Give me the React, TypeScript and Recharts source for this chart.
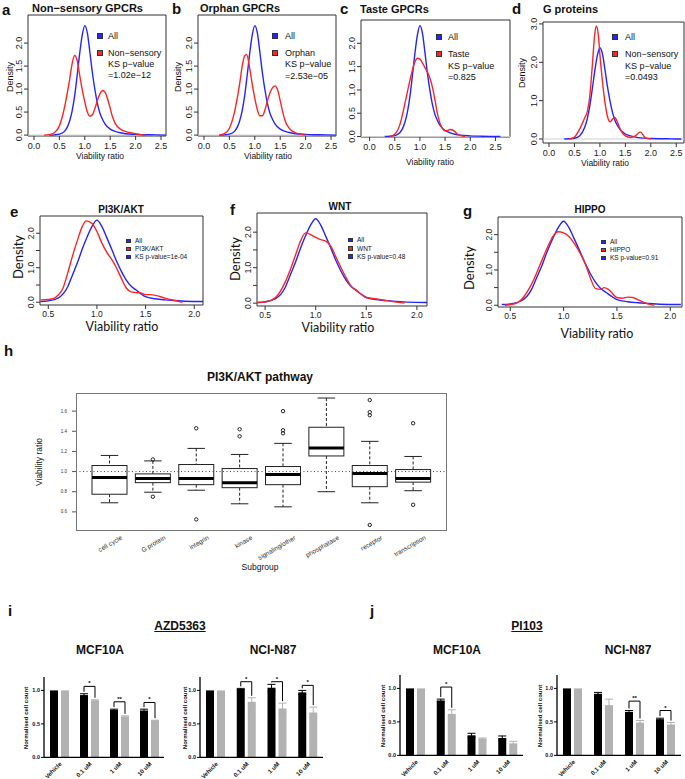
import React from 'react'
import { LineChart, Line, XAxis, YAxis, ReferenceArea, ReferenceLine, BarChart, Bar, ErrorBar } from 'recharts'

const SANS = '"Liberation Sans", Arial, Helvetica, sans-serif'
const SOFT = 'Lato, "Open Sans", sans-serif'
const BLUE = '#2424ff'
const RED = '#ff2424'
const GREY = '#b2b2b2'

// density curves as [viability ratio, density]
const allNarrow = [
  [0.3, 0], [0.4, 0.005], [0.5, 0.02], [0.6, 0.08], [0.7, 0.3], [0.75, 0.52], [0.8, 0.85], [0.85, 1.3],
  [0.9, 1.78], [0.95, 2.18], [1.0, 2.38], [1.05, 2.22], [1.1, 1.8], [1.15, 1.35], [1.2, 0.98], [1.25, 0.68],
  [1.3, 0.47], [1.35, 0.34], [1.4, 0.24], [1.5, 0.13], [1.6, 0.08], [1.7, 0.05], [1.8, 0.03], [2.0, 0.015],
  [2.2, 0.008], [2.4, 0.004], [2.6, 0],
]
const nonSensory = [
  [0.2, 0], [0.3, 0.01], [0.4, 0.05], [0.5, 0.2], [0.6, 0.6], [0.7, 1.2], [0.75, 1.55], [0.8, 1.73],
  [0.85, 1.62], [0.9, 1.3], [0.95, 0.98], [1.0, 0.72], [1.05, 0.5], [1.1, 0.41], [1.15, 0.44], [1.2, 0.58],
  [1.25, 0.76], [1.3, 0.9], [1.35, 0.97], [1.4, 0.93], [1.45, 0.78], [1.5, 0.58], [1.55, 0.38], [1.6, 0.25],
  [1.7, 0.13], [1.8, 0.08], [1.9, 0.05], [2.0, 0.03], [2.1, 0.01], [2.2, 0],
]
const orphan = [
  [0.3, 0], [0.4, 0.03], [0.5, 0.15], [0.6, 0.5], [0.7, 1.1], [0.75, 1.48], [0.8, 1.72], [0.84, 1.75],
  [0.9, 1.45], [0.95, 1.1], [1.0, 0.8], [1.05, 0.55], [1.1, 0.42], [1.15, 0.42], [1.2, 0.55], [1.25, 0.75],
  [1.3, 0.92], [1.35, 1.03], [1.4, 1.07], [1.45, 0.98], [1.5, 0.75], [1.55, 0.5], [1.6, 0.3], [1.7, 0.12],
  [1.8, 0.05], [1.9, 0.02], [2.0, 0],
]
const taste = [
  [0.4, 0], [0.5, 0.05], [0.6, 0.25], [0.7, 0.7], [0.8, 1.2], [0.9, 1.6], [0.95, 1.68], [1.0, 1.66],
  [1.05, 1.58], [1.1, 1.48], [1.15, 1.38], [1.2, 1.25], [1.25, 1.05], [1.3, 0.78], [1.35, 0.48], [1.4, 0.28],
  [1.45, 0.17], [1.5, 0.12], [1.55, 0.13], [1.6, 0.15], [1.65, 0.14], [1.7, 0.1], [1.75, 0.05], [1.85, 0.01],
  [1.9, 0],
]
const gProteins = [
  [0.4, 0], [0.5, 0.05], [0.6, 0.25], [0.7, 0.55], [0.75, 0.7], [0.8, 1.1], [0.85, 1.9], [0.9, 2.75],
  [0.93, 2.95], [0.97, 2.7], [1.0, 2.2], [1.05, 1.5], [1.1, 0.95], [1.15, 0.58], [1.2, 0.45], [1.25, 0.52],
  [1.29, 0.56], [1.35, 0.42], [1.4, 0.25], [1.5, 0.08], [1.6, 0.04], [1.7, 0.08], [1.75, 0.15], [1.8, 0.18],
  [1.85, 0.1], [1.9, 0.03], [2.0, 0],
]
const allWide = [
  [0.42, 0.02], [0.5, 0.04], [0.6, 0.12], [0.7, 0.45], [0.75, 0.8], [0.8, 1.15], [0.85, 1.55], [0.9, 1.9],
  [0.95, 2.2], [1.0, 2.38], [1.05, 2.2], [1.1, 1.88], [1.15, 1.55], [1.2, 1.2], [1.25, 0.9], [1.3, 0.65],
  [1.35, 0.47], [1.4, 0.36], [1.45, 0.25], [1.5, 0.16], [1.6, 0.1], [1.7, 0.07], [1.8, 0.05], [1.9, 0.03],
  [2.1, 0.02],
]
const pi3kAkt = [
  [0.42, 0.07], [0.5, 0.08], [0.55, 0.1], [0.6, 0.2], [0.65, 0.4], [0.7, 0.85], [0.75, 1.35], [0.8, 1.8],
  [0.85, 2.2], [0.89, 2.36], [0.95, 2.28], [1.0, 2.05], [1.05, 1.72], [1.1, 1.45], [1.15, 1.25], [1.2, 1.0],
  [1.25, 0.7], [1.3, 0.42], [1.35, 0.3], [1.4, 0.28], [1.45, 0.27], [1.5, 0.22], [1.55, 0.22], [1.6, 0.2],
  [1.7, 0.12], [1.8, 0.05], [1.88, 0],
]
const wnt = [
  [0.42, 0.02], [0.5, 0.03], [0.6, 0.15], [0.7, 0.6], [0.75, 0.95], [0.8, 1.35], [0.85, 1.75], [0.9, 1.98],
  [0.95, 1.93], [1.0, 1.85], [1.05, 1.79], [1.1, 1.75], [1.15, 1.6], [1.2, 1.3], [1.25, 1.0], [1.3, 0.72],
  [1.35, 0.48], [1.4, 0.37], [1.45, 0.25], [1.5, 0.16], [1.6, 0.12], [1.7, 0.07], [1.8, 0.03], [1.88, 0],
]
const hippo = [
  [0.45, 0], [0.55, 0.05], [0.6, 0.15], [0.7, 0.6], [0.8, 1.3], [0.85, 1.65], [0.9, 1.95], [0.95, 2.08],
  [1.0, 2.05], [1.05, 1.95], [1.1, 1.75], [1.15, 1.5], [1.2, 1.2], [1.25, 0.78], [1.3, 0.47], [1.35, 0.45],
  [1.38, 0.5], [1.42, 0.45], [1.5, 0.22], [1.55, 0.2], [1.6, 0.23], [1.65, 0.22], [1.7, 0.15], [1.8, 0.03],
  [1.85, 0],
]

const gpcrTicksX = [0, 0.5, 1, 1.5, 2, 2.5]
const gpcrTicksY = [0, 0.5, 1, 1.5, 2]
const gProtTicksY = [0, 1, 2, 3]
const pathTicksX = [0.5, 1, 1.5, 2]
const pathTicksY = [0, 0.5, 1, 1.5, 2]
const pathLabelsY = [0, 1, 2]

// h: PI3K/AKT pathway boxplot
const subgroups = ['cell cycle', 'G protein', 'integrin', 'kinase', 'signaling/other', 'phosphatase', 'receptor', 'transcription']
const whiskerLow = [0.69, 0.795, 0.815, 0.68, 0.65, 0.8, 0.69, 0.81]
const quart1 = [0.775, 0.89, 0.87, 0.84, 0.87, 1.155, 0.85, 0.895]
const medians = [0.94, 0.93, 0.93, 0.89, 0.97, 1.235, 0.98, 0.93]
const quart3 = [1.06, 0.977, 1.07, 1.03, 1.05, 1.44, 1.06, 1.02]
const whiskerHigh = [1.16, 1.106, 1.23, 1.17, 1.28, 1.73, 1.3, 1.15]
const outliers = [[], [0.75, 1.12], [1.43, 0.525], [1.42, 1.35], [1.6, 1.41, 1.38], [], [1.71, 1.59, 1.56, 0.47], [1.48, 0.67]]
const boxTicksY = [0.6, 0.8, 1.0, 1.2, 1.4, 1.6]

// i / j: normalised cell counts
const doses = ['Vehicle', '0.1 uM', '1 uM', '10 uM']
const azdMcfBlack = [1.0, 0.93, 0.71, 0.7]
const azdMcfGrey = [1.0, 0.85, 0.61, 0.55]
const azdMcfBlackErr = [0, 0.02, 0.01, 0.02]
const azdMcfGreyErr = [0, 0.01, 0.01, 0.005]
const azdMcfBracket = [null, 1.06, 0.83, 0.82]
const azdMcfStars = ['', '*', '**', '*']
const azdNciBlack = [1.0, 1.02, 1.04, 0.97]
const azdNciGrey = [1.0, 0.83, 0.73, 0.67]
const azdNciBlackErr = [0, 0.01, 0.05, 0.03]
const azdNciGreyErr = [0, 0.06, 0.08, 0.08]
const azdNciBracket = [null, 1.13, 1.13, 1.075]
const azdNciStars = ['', '*', '*', '*']
const piMcfBlack = [1.0, 0.82, 0.3, 0.26]
const piMcfGrey = [1.0, 0.62, 0.25, 0.18]
const piMcfBlackErr = [0, 0.02, 0.03, 0.03]
const piMcfGreyErr = [0, 0.06, 0.01, 0.03]
const piMcfBracket = [null, 1.02, null, null]
const piMcfStars = ['', '*', '', '']
const piNciBlack = [1.0, 0.92, 0.65, 0.54]
const piNciGrey = [1.0, 0.75, 0.49, 0.46]
const piNciBlackErr = [0, 0.02, 0.02, 0.015]
const piNciGreyErr = [0, 0.09, 0.03, 0.03]
const piNciBracket = [null, null, 0.81, 0.67]
const piNciStars = ['', '', '**', '*']
const cellTicksY = [0, 0.5, 1.0]

const toPts = (c: number[][]) => c.map(([x, y]) => ({ x, y }))

function Txt({ x, y, size, children, bold, rotate = 0, anchor = 'middle', font = SANS, underline }: any) {
  return (
    <div style={{
      position: 'absolute', left: x, top: y,
      transform: `translate(${anchor === 'start' ? '0' : '-50%'}, -50%) rotate(${rotate}deg)`,
      transformOrigin: anchor === 'start' ? 'left center' : 'center',
      fontFamily: font, fontSize: size, fontWeight: bold ? 700 : 400,
      whiteSpace: 'nowrap', lineHeight: 1, color: '#111',
      textDecoration: underline ? 'underline' : 'none',
    }}>{children}</div>
  )
}

function Key({ sx, tx, y, color, text, size, sq }: any) {
  return (
    <>
      {color && <div style={{ position: 'absolute', left: sx, top: y - sq / 2, width: sq, height: sq, background: color, border: '0.5px solid #333', boxSizing: 'border-box' }} />}
      <Txt x={tx} y={y} size={size} anchor="start">{text}</Txt>
    </>
  )
}

const xTick = (size: number) => (p: any) => (
  <text x={p.x} y={p.y} dy="0.75em" textAnchor="middle" fontSize={size} fontFamily={SANS} fill="#222">
    {Number(p.payload.value).toFixed(1)}
  </text>
)
const yTickRot = (size: number, shown?: number[]) => (p: any) => {
  if (shown && !shown.includes(p.payload.value)) return <g />
  return (
    <text x={p.x} y={p.y} transform={`rotate(-90 ${p.x} ${p.y})`} textAnchor="middle" fontSize={size} fontFamily={SANS} fill="#222">
      {Number(p.payload.value).toFixed(1)}
    </text>
  )
}

function DensityPanel({ box, xDomain, yDomain, xTicks, yTicks, yLabels, blue, red, tickFont, zeroLine }: any) {
  const padL = 30, padT = 4, padR = 4, axH = 22
  return (
    <div style={{ position: 'absolute', left: box.x - padL, top: box.y - padT }}>
      <LineChart width={box.w + padL + padR} height={box.h + padT + axH} margin={{ top: padT, right: padR, left: 0, bottom: 0 }}>
        <XAxis type="number" dataKey="x" domain={xDomain} ticks={xTicks} allowDataOverflow interval={0}
          axisLine={false} tickLine={{ stroke: '#333' }} tickSize={4} height={axH} tick={xTick(tickFont)} />
        <YAxis type="number" dataKey="y" domain={yDomain} ticks={yTicks} allowDataOverflow interval={0}
          axisLine={false} tickLine={{ stroke: '#333' }} tickSize={4} width={padL} tick={yTickRot(tickFont, yLabels)} />
        {zeroLine && <ReferenceLine y={0} stroke="#cfcfcf" />}
        <Line data={toPts(blue)} dataKey="y" type="monotone" stroke={BLUE} strokeWidth={1.4} dot={false} isAnimationActive={false} />
        <Line data={toPts(red)} dataKey="y" type="monotone" stroke={RED} strokeWidth={1.4} dot={false} isAnimationActive={false} />
        <ReferenceArea x1={xDomain[0]} x2={xDomain[1]} y1={yDomain[0]} y2={yDomain[1]} fill="none" fillOpacity={0} stroke="#333" strokeWidth={1} />
      </LineChart>
    </div>
  )
}

function BoxShape(p: any) {
  const { x, y, width, height, payload } = p
  const [lo, hi] = payload.range
  const k = height / (hi - lo)
  const py = (v: number) => y + (hi - v) * k
  const cx = x + width / 2
  const cap = width / 4
  const ink = '#222'
  return (
    <g>
      <line x1={cx} x2={cx} y1={py(hi)} y2={py(payload.q3)} stroke={ink} strokeDasharray="3 2" />
      <line x1={cx} x2={cx} y1={py(payload.q1)} y2={py(lo)} stroke={ink} strokeDasharray="3 2" />
      <line x1={cx - cap} x2={cx + cap} y1={py(hi)} y2={py(hi)} stroke={ink} />
      <line x1={cx - cap} x2={cx + cap} y1={py(lo)} y2={py(lo)} stroke={ink} />
      <rect x={x} y={py(payload.q3)} width={width} height={py(payload.q1) - py(payload.q3)} fill="#fff" stroke={ink} />
      <line x1={x} x2={x + width} y1={py(payload.med)} y2={py(payload.med)} stroke="#000" strokeWidth={3} />
      {payload.out.map((v: number, i: number) => (
        <circle key={i} cx={cx} cy={py(v)} r={1.7} fill="none" stroke={ink} strokeWidth={1} />
      ))}
    </g>
  )
}

function BoxPanel() {
  const box = { x: 76, y: 393, w: 371, h: 138 }
  const padL = 30, padT = 4, padR = 4, axH = 30
  const rows = subgroups.map((name, i) => ({
    name, range: [whiskerLow[i], whiskerHigh[i]], q1: quart1[i], med: medians[i], q3: quart3[i], out: outliers[i],
  }))
  return (
    <>
      <div style={{ position: 'absolute', left: box.x - padL, top: box.y - padT }}>
        <BarChart width={box.w + padL + padR} height={box.h + padT + axH} data={rows} margin={{ top: padT, right: padR, left: 0, bottom: 0 }} barSize={35}>
          <XAxis dataKey="name" padding={{ left: 12, right: 12 }} axisLine={false} tickLine={false} tickSize={0} height={axH} interval={0}
            tick={(p: any) => (
              <text x={p.x + 13} y={p.y + 6} transform={`rotate(-30 ${p.x + 13} ${p.y + 6})`} textAnchor="end" fontSize={6.5} fontFamily={SANS} fill="#333">
                {p.payload.value}
              </text>
            )} />
          <YAxis type="number" domain={[0.41, 1.78]} ticks={boxTicksY} allowDataOverflow interval={0} width={padL}
            axisLine={false} tickLine={{ stroke: '#555' }} tickSize={4} tickMargin={5}
            tick={(p: any) => (
              <text x={p.x} y={p.y} dy="0.35em" textAnchor="end" fontSize={4.5} fontFamily={SANS} fill="#333">
                {Number(p.payload.value).toFixed(1)}
              </text>
            )} />
          <Bar dataKey="range" shape={BoxShape} isAnimationActive={false} />
          <ReferenceLine y={1} stroke="#444" strokeDasharray="1 2.5" />
        </BarChart>
      </div>
      <div style={{ position: 'absolute', left: box.x, top: box.y, width: box.w, height: box.h, border: '1px solid #777', boxSizing: 'border-box' }} />
    </>
  )
}

function GreyWithBracket(p: any) {
  const { x, y, width, height, payload } = p
  const base = y + height
  const k = payload.grey > 0 ? height / payload.grey : 0
  const py = (v: number) => base - v * k
  const gx = x + width / 2
  const bx = x - 3 - width / 2
  return (
    <g>
      <rect x={x} y={y} width={width} height={height} fill={GREY} />
      {payload.bracket != null && (
        <g stroke="#000" strokeWidth={1} fill="none">
          <path d={`M${bx},${py(payload.black + payload.blackErr + 0.03)} V${py(payload.bracket)} H${gx} V${py(payload.grey + payload.greyErr + 0.03)}`} />
          <text x={(bx + gx) / 2} y={py(payload.bracket) - 1} textAnchor="middle" fontSize={6} fontFamily={SANS} fontWeight="bold" fill="#000" stroke="none">
            {payload.stars}
          </text>
        </g>
      )}
    </g>
  )
}

function DosePanel({ L, W, B, black, grey, blackErr, greyErr, bracket, stars }: any) {
  const T = B - 1.2 * 67
  const padL = 25, padT = 14, padR = 4, axH = 30
  const rows = doses.map((dose, i) => ({
    dose, black: black[i], grey: grey[i], blackErr: blackErr[i], greyErr: greyErr[i], bracket: bracket[i], stars: stars[i],
  }))
  return (
    <div style={{ position: 'absolute', left: L - padL, top: T - padT }}>
      <BarChart width={padL + W + padR} height={padT + (B - T) + axH} data={rows} margin={{ top: padT, right: padR, left: 0, bottom: 0 }}
        barSize={8} barGap={3}>
        <XAxis dataKey="dose" axisLine={{ stroke: '#000', strokeWidth: 1.3 }} tickLine={false} tickSize={3} height={axH} interval={0}
          tick={(p: any) => (
            <text x={p.x + 3} y={p.y + 2} transform={`rotate(-45 ${p.x + 3} ${p.y + 2})`} textAnchor="end" fontSize={6} fontWeight="bold" fontFamily={SANS} fill="#111">
              {p.payload.value}
            </text>
          )} />
        <YAxis type="number" domain={[0, 1.2]} ticks={cellTicksY} interval={0} width={padL}
          axisLine={{ stroke: '#000', strokeWidth: 1.3 }} tickLine={{ stroke: '#000' }} tickSize={3} tickMargin={1}
          tick={(p: any) => (
            <text x={p.x} y={p.y} dy="0.35em" textAnchor="end" fontSize={5.5} fontWeight="bold" fontFamily={SANS} fill="#111">
              {Number(p.payload.value).toFixed(1)}
            </text>
          )} />
        <Bar dataKey="black" fill="#000" isAnimationActive={false}>
          <ErrorBar dataKey="blackErr" width={4} stroke="#000" strokeWidth={1} />
        </Bar>
        <Bar dataKey="grey" fill={GREY} isAnimationActive={false} shape={GreyWithBracket}>
          <ErrorBar dataKey="greyErr" width={4} stroke={GREY} strokeWidth={1} />
        </Bar>
      </BarChart>
    </div>
  )
}

export default function App() {
  return (
    <div style={{ position: 'absolute', left: 0, top: 0, width: 685, height: 779, background: '#fff', overflow: 'hidden', fontFamily: SANS }}>
      {/* top row: GPCRs and G proteins */}
      <Txt x={2} y={9} size={15} bold anchor="start">a</Txt>
      <Txt x={32} y={8} size={11} bold anchor="start">Non−sensory GPCRs</Txt>
      <Txt x={172} y={8} size={15} bold anchor="start">b</Txt>
      <Txt x={200} y={8} size={11} bold anchor="start">Orphan GPCRs</Txt>
      <Txt x={340} y={8} size={15} bold anchor="start">c</Txt>
      <Txt x={360} y={9} size={11} bold anchor="start">Taste GPCRs</Txt>
      <Txt x={512} y={8} size={15} bold anchor="start">d</Txt>
      <Txt x={543} y={9} size={11} bold anchor="start">G proteins</Txt>

      <DensityPanel box={{ x: 28, y: 15, w: 138, h: 121 }} xDomain={[-0.118, 2.598]} yDomain={[-0.02, 2.61]}
        xTicks={gpcrTicksX} yTicks={gpcrTicksY} blue={allNarrow} red={nonSensory} tickFont={9} zeroLine />
      <DensityPanel box={{ x: 198, y: 15, w: 138, h: 121 }} xDomain={[-0.118, 2.598]} yDomain={[-0.02, 2.61]}
        xTicks={gpcrTicksX} yTicks={gpcrTicksY} blue={allNarrow} red={orphan} tickFont={9} zeroLine />
      <DensityPanel box={{ x: 361, y: 20, w: 149, h: 117 }} xDomain={[-0.171, 2.79]} yDomain={[-0.01, 2.5]}
        xTicks={gpcrTicksX} yTicks={gpcrTicksY} blue={allNarrow} red={taste} tickFont={9} zeroLine />
      <DensityPanel box={{ x: 543, y: 22, w: 141, h: 121 }} xDomain={[-0.118, 2.652]} yDomain={[-0.104, 3.05]}
        xTicks={gpcrTicksX} yTicks={gProtTicksY} blue={allNarrow} red={gProteins} tickFont={9} zeroLine />

      <Txt x={10} y={77} size={9} rotate={-90}>Density</Txt>
      <Txt x={178} y={77} size={9} rotate={-90}>Density</Txt>
      <Txt x={522} y={73} size={9} rotate={-90}>Density</Txt>
      <Txt x={100} y={156} size={8.5}>Viability ratio</Txt>
      <Txt x={268} y={156} size={8.5}>Viability ratio</Txt>
      <Txt x={430} y={162} size={8.5}>Viability ratio</Txt>
      <Txt x={605} y={163} size={8.5}>Viability ratio</Txt>

      <Key sx={97} tx={108} y={36} color={BLUE} text="All" size={9} sq={6} />
      <Key sx={97} tx={108} y={53} color={RED} text="Non−sensory" size={9} sq={6} />
      <Key tx={108} y={64} text="KS p−value" size={9} />
      <Key tx={108} y={75} text="=1.02e−12" size={9} />
      <Key sx={272} tx={285} y={36} color={BLUE} text="All" size={9} sq={6} />
      <Key sx={272} tx={285} y={53} color={RED} text="Orphan" size={9} sq={6} />
      <Key tx={285} y={64} text="KS p−value" size={9} />
      <Key tx={285} y={76} text="=2.53e−05" size={9} />
      <Key sx={436} tx={448} y={37} color={BLUE} text="All" size={9} sq={6} />
      <Key sx={436} tx={448} y={54} color={RED} text="Taste" size={9} sq={6} />
      <Key tx={448} y={66} text="KS p−value" size={9} />
      <Key tx={448} y={77} text="=0.825" size={9} />
      <Key sx={612} tx={625} y={37} color={BLUE} text="All" size={9} sq={6} />
      <Key sx={612} tx={625} y={54} color={RED} text="Non−sensory" size={9} sq={6} />
      <Key tx={625} y={66} text="KS p−value" size={9} />
      <Key tx={625} y={77} text="=0.0493" size={9} />

      {/* middle row: pathways */}
      <Txt x={10} y={211} size={15} bold anchor="start">e</Txt>
      <Txt x={121} y={210} size={10} bold>PI3K/AKT</Txt>
      <Txt x={230} y={209} size={15} bold anchor="start">f</Txt>
      <Txt x={340} y={207} size={10} bold>WNT</Txt>
      <Txt x={463} y={210} size={15} bold anchor="start">g</Txt>
      <Txt x={590} y={210} size={10} bold>HIPPO</Txt>

      <DensityPanel box={{ x: 40, y: 216, w: 163, h: 89 }} xDomain={[0.415, 2.09]} yDomain={[-0.08, 2.5]}
        xTicks={pathTicksX} yTicks={pathTicksY} yLabels={pathLabelsY} blue={allWide} red={pi3kAkt} tickFont={8.5} />
      <DensityPanel box={{ x: 257, y: 213, w: 170, h: 93 }} xDomain={[0.42, 2.1]} yDomain={[-0.08, 2.54]}
        xTicks={pathTicksX} yTicks={pathTicksY} yLabels={pathLabelsY} blue={allWide} red={wnt} tickFont={8.5} />
      <DensityPanel box={{ x: 498, y: 217, w: 184, h: 90 }} xDomain={[0.385, 2.11]} yDomain={[-0.05, 2.5]}
        xTicks={pathTicksX} yTicks={pathTicksY} yLabels={pathLabelsY} blue={allWide} red={hippo} tickFont={8.5} />

      <Txt x={18} y={257} size={13} rotate={-90} font={SOFT}>Density</Txt>
      <Txt x={235} y={259} size={13} rotate={-90} font={SOFT}>Density</Txt>
      <Txt x={469} y={268} size={13} rotate={-90} font={SOFT}>Density</Txt>
      <Txt x={122} y={327} size={12.5} font={SOFT}>Viability ratio</Txt>
      <Txt x={338} y={328} size={12.5} font={SOFT}>Viability ratio</Txt>
      <Txt x={597} y={334} size={12.5} font={SOFT}>Viability ratio</Txt>

      <Key sx={126} tx={135} y={241} color={BLUE} text="All" size={6.5} sq={4.5} />
      <Key sx={126} tx={135} y={249} color={RED} text="PI3K/AKT" size={6.5} sq={4.5} />
      <Key sx={126} tx={135} y={257} color={BLUE} text="KS p-value=1e-04" size={6.5} sq={4.5} />
      <Key sx={348} tx={357} y={240} color={BLUE} text="All" size={6.5} sq={4.5} />
      <Key sx={348} tx={357} y={248.5} color={RED} text="WNT" size={6.5} sq={4.5} />
      <Key sx={348} tx={357} y={256.5} color={BLUE} text="KS p-value=0.48" size={6.5} sq={4.5} />
      <Key sx={601} tx={610} y={242} color={BLUE} text="All" size={6.5} sq={4.5} />
      <Key sx={601} tx={610} y={250} color={RED} text="HIPPO" size={6.5} sq={4.5} />
      <Key sx={601} tx={610} y={258} color={BLUE} text="KS p-value=0.91" size={6.5} sq={4.5} />

      {/* h: boxplot */}
      <Txt x={4} y={350} size={15} bold anchor="start">h</Txt>
      <Txt x={260} y={377} size={12} bold>PI3K/AKT pathway</Txt>
      <BoxPanel />
      <Txt x={39} y={462} size={8.5} rotate={-90}>Viability ratio</Txt>
      <Txt x={260} y={567} size={8.5}>Subgroup</Txt>

      {/* i / j: cell counts */}
      <Txt x={8} y={610} size={15} bold anchor="start">i</Txt>
      <Txt x={180} y={626} size={12} bold underline>AZD5363</Txt>
      <Txt x={100} y={650} size={12} bold>MCF10A</Txt>
      <Txt x={273} y={650} size={12} bold>NCI-N87</Txt>
      <Txt x={370} y={610} size={15} bold anchor="start">j</Txt>
      <Txt x={527} y={626} size={12} bold underline>PI103</Txt>
      <Txt x={457} y={650} size={12} bold>MCF10A</Txt>
      <Txt x={628} y={650} size={12} bold>NCI-N87</Txt>

      <DosePanel L={44} W={120} B={757} black={azdMcfBlack} grey={azdMcfGrey} blackErr={azdMcfBlackErr} greyErr={azdMcfGreyErr} bracket={azdMcfBracket} stars={azdMcfStars} />
      <DosePanel L={200} W={123} B={757} black={azdNciBlack} grey={azdNciGrey} blackErr={azdNciBlackErr} greyErr={azdNciGreyErr} bracket={azdNciBracket} stars={azdNciStars} />
      <DosePanel L={400} W={123} B={755} black={piMcfBlack} grey={piMcfGrey} blackErr={piMcfBlackErr} greyErr={piMcfGreyErr} bracket={piMcfBracket} stars={piMcfStars} />
      <DosePanel L={557} W={124} B={755} black={piNciBlack} grey={piNciGrey} blackErr={piNciBlackErr} greyErr={piNciGreyErr} bracket={piNciBracket} stars={piNciStars} />

      <Txt x={26} y={718} size={6} bold rotate={-90}>Normalised cell count</Txt>
      <Txt x={185} y={718} size={6} bold rotate={-90}>Normalised cell count</Txt>
      <Txt x={383} y={716} size={6} bold rotate={-90}>Normalised cell count</Txt>
      <Txt x={540} y={716} size={6} bold rotate={-90}>Normalised cell count</Txt>
    </div>
  )
}
